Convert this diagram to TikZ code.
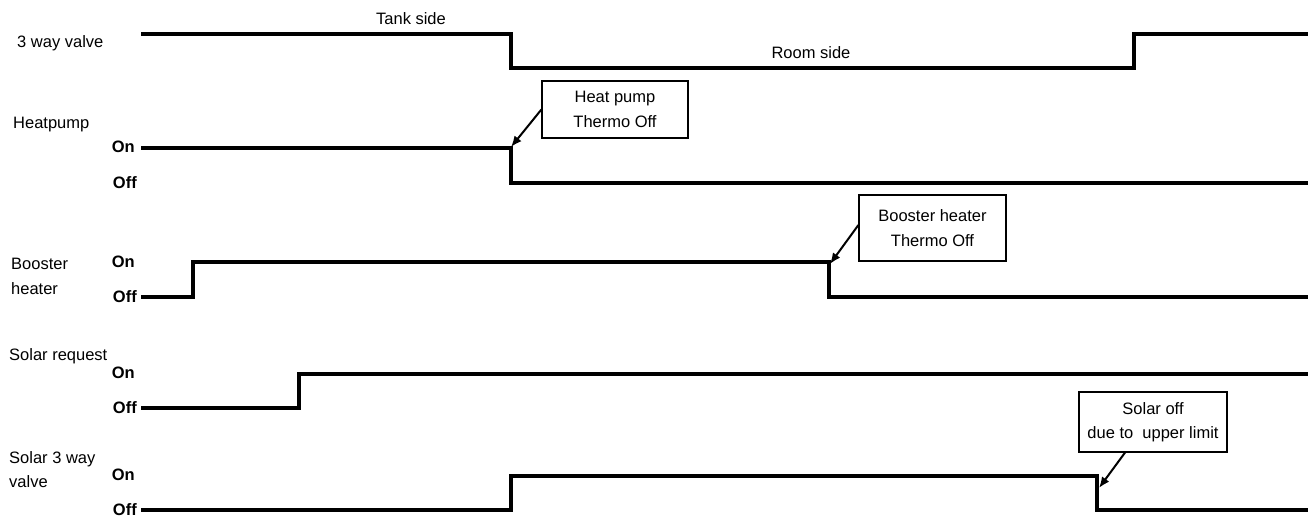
\documentclass[tikz,border=0pt]{standalone}
\usepackage{fontspec}
\setmainfont{Liberation Sans}
\usetikzlibrary{arrows.meta}

\begin{document}
\begin{tikzpicture}[x=1pt,y=-1pt,
	every node/.style={font=\fontsize{16.5}{24.5}\selectfont, inner sep=0pt},
	wave/.style={line width=4pt},
	level/.style={font=\fontsize{16.5}{20}\selectfont\bfseries, anchor=base east},
	note/.style={draw, line width=1.2pt, align=center},
	pointer/.style={line width=2pt, -{Latex[length=11pt,width=9pt]}}]
	\useasboundingbox (0,0) rectangle (1309,519);
	% signal names
	\node[anchor=base west] (valve) at (17,48) {3 way valve};
	\node[anchor=base west] (hp) at (13,128) {Heatpump};
	\node[anchor=north west, align=left] (bh) at (11,258) {Booster\\heater};
	\node[anchor=base west] (sr) at (9,360) {Solar request};
	\node[anchor=north west, align=left] (sv) at (9,451) {Solar 3 way\\valve};
	% on/off levels
	\node[level] (hpon) at (135,152) {On};
	\node[level] (hpoff) at (137,188) {Off};
	\node[level] (bhon) at (135,267) {On};
	\node[level] (bhoff) at (137,302) {Off};
	\node[level] (sron) at (135,378) {On};
	\node[level] (sroff) at (137,413) {Off};
	\node[level] (svon) at (135,480) {On};
	\node[level] (svoff) at (137,515) {Off};
	% waveforms
	\draw[wave] (141,34) -| (511,68) -| (1134,34) -- (1308,34);
	\draw[wave] (141,148) -| (511,183) -- (1308,183);
	\draw[wave] (141,297) -| (193,262) -| (829,297) -- (1308,297);
	\draw[wave] (141,408) -| (299,374) -- (1308,374);
	\draw[wave] (141,510) -| (511,476) -| (1097,510) -- (1308,510);
	\node[anchor=base] (tank) at (411,25) {Tank side};
	\node[anchor=base] (room) at (811,59) {Room side};
	% notes
	\node[note, minimum width=146pt, minimum height=57pt] (hpnote) at (615,109.5) {Heat pump\\Thermo Off};
	\node[note, minimum width=147pt, minimum height=66pt] (bhnote) at (932.5,228) {Booster heater\\Thermo Off};
	\node[note, minimum width=148pt, minimum height=60pt] (svnote) at (1153,422) {Solar off\\due to\ \ upper limit};
	\coordinate (hptip) at (511,147);
	\coordinate (bhtip) at (830,264);
	\coordinate (svtip) at (1099,488);
	\draw[pointer] (hpnote.west) -- (hptip);
	\draw[pointer] ([yshift=3pt]bhnote.west) -- (bhtip);
	\draw[pointer] ([xshift=-28pt]svnote.south) -- (svtip);
\end{tikzpicture}
\end{document}
